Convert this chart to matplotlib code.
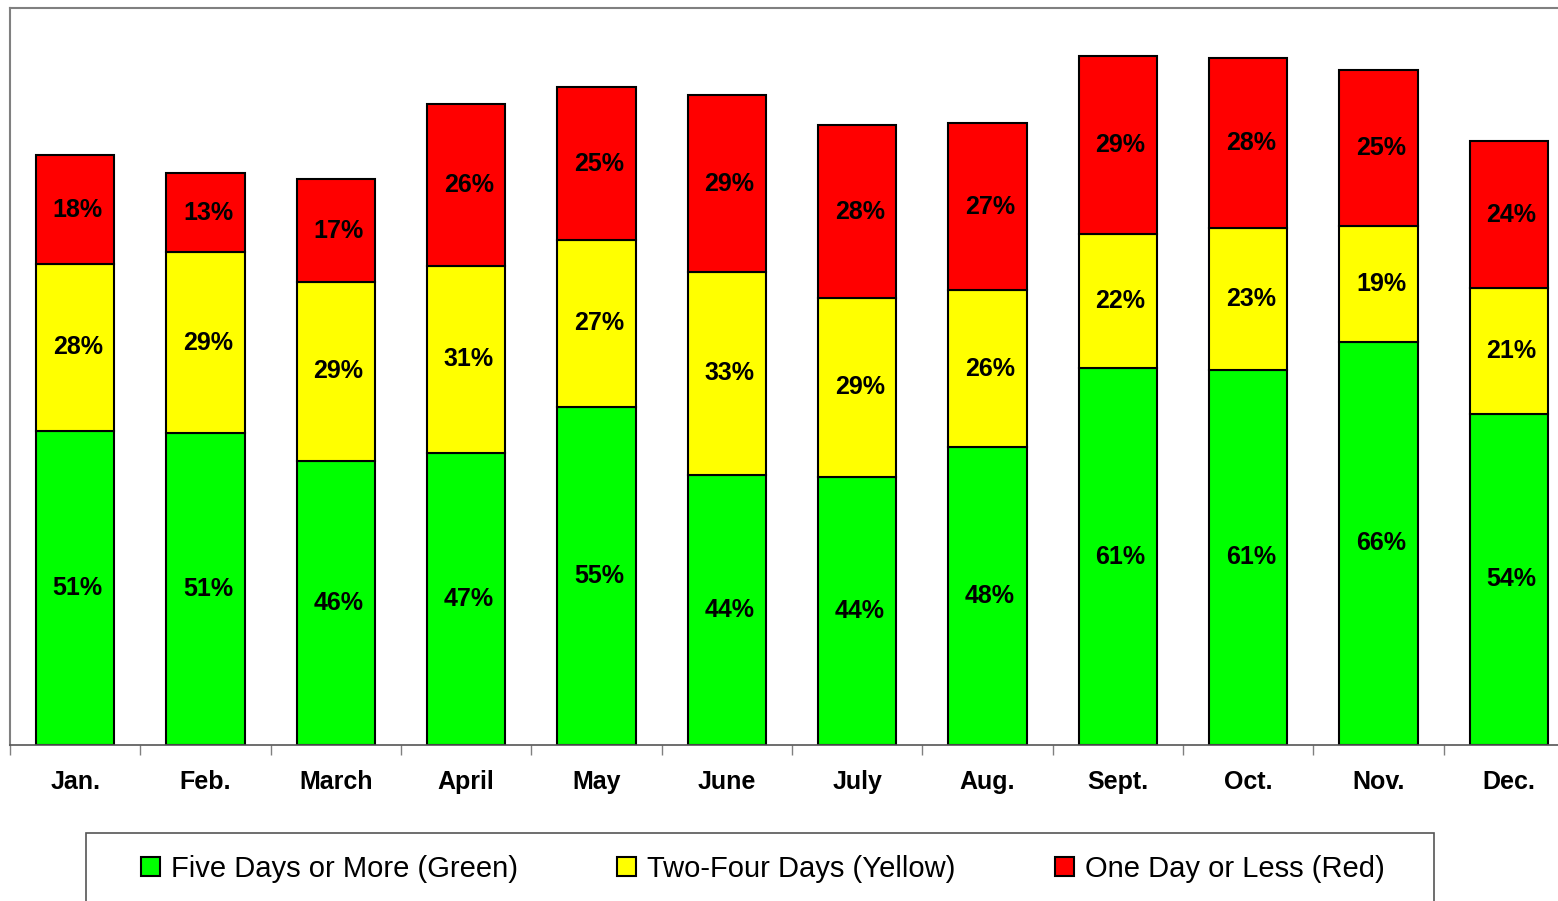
import matplotlib.pyplot as plt
from matplotlib.patches import Rectangle

plt.rcParams['font.family'] = ['Liberation Sans', 'DejaVu Sans']

months = ['Jan.', 'Feb.', 'March', 'April', 'May', 'June',
          'July', 'Aug.', 'Sept.', 'Oct.', 'Nov.', 'Dec.']

# segment heights (arbitrary units)
green = [314, 312, 284, 292, 338, 270, 268, 298, 377, 375, 403, 331]
yellow = [167, 181, 179, 187, 167, 203, 179, 157, 134, 142, 116, 126]
red = [109, 79, 103, 162, 153, 177, 173, 167, 178, 170, 156, 147]

# printed percentage labels
green_pct = [51, 51, 46, 47, 55, 44, 44, 48, 61, 61, 66, 54]
yellow_pct = [28, 29, 29, 31, 27, 33, 29, 26, 22, 23, 19, 21]
red_pct = [18, 13, 17, 26, 25, 29, 28, 27, 29, 28, 25, 24]

series = [
    ('Five Days or More (Green)', green, green_pct, '#00ff00'),
    ('Two-Four Days (Yellow)', yellow, yellow_pct, '#ffff00'),
    ('One Day or Less (Red)', red, red_pct, '#ff0000'),
]

W, H = 1558, 901
fig = plt.figure(figsize=(W / 100, H / 100), dpi=100)
ax = fig.add_axes([10 / W, 156 / H, 1564 / W, 737 / H])

x = list(range(len(months)))
bottom = [0] * len(months)
handles = []
for name, vals, pcts, col in series:
    b = ax.bar(x, vals, 0.6, bottom=bottom, color=col, edgecolor='black',
               linewidth=1.5, label=name)
    handles.append(b)
    for i, (v, p) in enumerate(zip(vals, pcts)):
        ax.text(x[i] + 0.02, bottom[i] + v / 2, f'{p}%', ha='center', va='center',
                fontsize=18, fontweight='bold')
    bottom = [bt + v for bt, v in zip(bottom, vals)]

ax.set_xlim(-0.5, 11.5)
ax.set_ylim(0, 737)
ax.set_yticks([])
ax.set_xticks([i + 0.5 for i in range(-1, 12)], minor=False)
ax.set_xticklabels([])
ax.set_xticks(x, minor=True)
ax.set_xticklabels(months, minor=True, fontsize=18, fontweight='bold')
ax.tick_params(axis='x', which='major', length=7, color='#808080', width=1)
ax.tick_params(axis='x', which='minor', length=0, pad=18)
for s in ['left', 'top', 'right']:
    ax.spines[s].set_color('#808080')
    ax.spines[s].set_linewidth(1.5)
ax.spines['bottom'].set_color('#555555')
ax.spines['bottom'].set_linewidth(1.2)

# legend box runs off the bottom of the picture
fig.patches.append(Rectangle((86 / W, -0.05), (1434 - 86) / W, (901 - 833) / H + 0.05,
                             transform=fig.transFigure, facecolor='white',
                             edgecolor='#555555', linewidth=1.2))
fig.legend(handles=handles, loc='center', bbox_to_anchor=(763 / W, 1 - 869 / H),
           ncol=3, frameon=False, fontsize=21, handlelength=0.65,
           handleheight=0.65, handletextpad=0.38, columnspacing=3.4)

fig.savefig('out.png', dpi=100)
